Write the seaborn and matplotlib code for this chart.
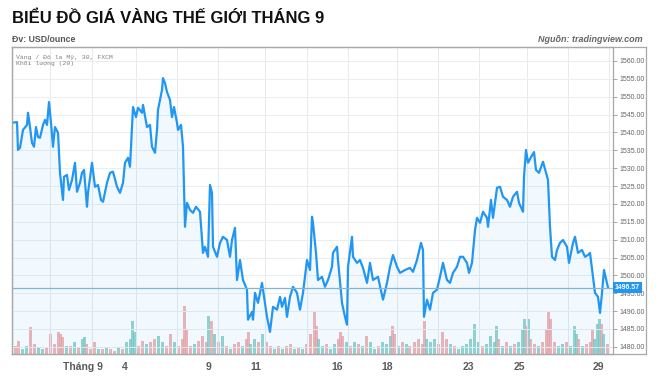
# %%
import numpy as np
import pandas as pd
import matplotlib
matplotlib.use("Agg")
import matplotlib.pyplot as plt
import seaborn as sns

# Gia vang (USD/ounce) - truc thoi gian tinh theo chi so phien tren bieu do
t_gio = [0, 5, 6, 8, 11, 15, 16, 18, 20, 22, 24, 26, 28, 31, 33, 35, 37, 39, 41, 43,
         46, 48, 51, 52, 55, 57, 60, 63, 65, 68, 70, 72, 75, 76, 80, 83, 86, 89, 91, 95,
         98, 101, 105, 108, 111, 113, 116, 118, 120, 121, 124, 126, 130, 131, 135, 138, 140, 143, 145, 146,
         150, 151, 153, 155, 158, 160, 162, 165, 166, 169, 171, 173, 175, 178, 181, 184, 188, 191, 193, 196,
         198, 200, 201, 205, 208, 211, 215, 218, 220, 223, 225, 228, 231, 235, 236, 240, 241, 243, 246, 250,
         253, 255, 258, 261, 265, 268, 270, 273, 275, 278, 281, 285, 288, 291, 295, 298, 300, 301, 304, 306,
         310, 313, 316, 320, 321, 325, 326, 330, 333, 335, 336, 340, 341, 345, 348, 351, 355, 358, 361, 366,
         371, 375, 378, 381, 385, 388, 393, 398, 401, 405, 409, 411, 412, 415, 418, 421, 425, 428, 431, 435,
         438, 441, 445, 448, 451, 455, 457, 460, 463, 465, 468, 471, 475, 476, 479, 481, 485, 488, 491, 495,
         498, 501, 505, 507, 511, 512, 514, 516, 519, 522, 524, 527, 531, 534, 536, 538, 540, 543, 545, 548,
         551, 555, 557, 561, 563, 566, 570, 573, 576, 578, 581, 583, 586, 588, 590, 592, 595, 596]
gia = [1542.7, 1542.9, 1535.1, 1535.7, 1540.7, 1542.1, 1545.5, 1541.5, 1537.1, 1536.0,
       1541.5, 1538.7, 1538.5, 1542.1, 1543.5, 1542.1, 1548.5, 1542.7, 1536.0, 1541.5,
       1539.9, 1528.7, 1521.1, 1527.6, 1528.1, 1523.9, 1526.7, 1531.5, 1523.4, 1525.9,
       1528.7, 1529.5, 1519.2, 1523.1, 1531.5, 1524.8, 1525.3, 1521.1, 1520.6, 1525.9,
       1528.7, 1529.0, 1524.8, 1523.1, 1525.9, 1531.5, 1532.9, 1530.4, 1541.5, 1547.1,
       1544.3, 1546.9, 1545.5, 1547.7, 1541.5, 1542.1, 1536.0, 1534.3, 1540.7, 1546.3,
       1551.9, 1555.2, 1553.8, 1551.3, 1549.1, 1544.3, 1547.1, 1542.7, 1540.7, 1542.1,
       1536.0, 1513.6, 1520.3, 1518.3, 1517.5, 1519.2, 1517.8, 1506.3, 1508.0, 1505.2,
       1525.3, 1523.1, 1508.0, 1505.2, 1509.1, 1510.8, 1509.9, 1505.2, 1509.9, 1513.3,
       1498.7, 1504.3, 1498.7, 1496.0, 1487.6, 1489.8, 1487.6, 1495.1, 1492.3, 1497.9,
       1492.3, 1488.4, 1484.2, 1491.2, 1490.4, 1494.0, 1491.2, 1493.7, 1488.4, 1494.0,
       1496.8, 1495.1, 1490.4, 1495.1, 1504.3, 1501.5, 1516.4, 1514.7, 1506.3, 1498.7,
       1499.6, 1496.8, 1498.7, 1502.4, 1506.3, 1508.0, 1504.3, 1492.3, 1488.4, 1486.2,
       1502.4, 1510.8, 1505.2, 1503.5, 1504.3, 1502.1, 1497.9, 1503.5, 1498.7, 1499.6,
       1493.2, 1497.9, 1502.4, 1505.7, 1502.4, 1500.7, 1501.5, 1502.1, 1501.0, 1504.3,
       1509.1, 1507.1, 1488.4, 1493.2, 1490.4, 1495.1, 1496.0, 1499.6, 1503.5, 1498.7,
       1497.9, 1500.7, 1502.4, 1505.2, 1505.2, 1503.5, 1500.7, 1503.5, 1512.7, 1516.1,
       1514.7, 1517.8, 1516.1, 1513.6, 1521.1, 1516.1, 1524.5, 1524.8, 1522.0, 1521.1,
       1519.2, 1522.0, 1523.4, 1520.3, 1517.8, 1527.6, 1535.1, 1531.5, 1533.1, 1534.5,
       1529.5, 1528.7, 1531.8, 1528.7, 1526.7, 1513.6, 1505.2, 1504.3, 1507.1, 1509.1,
       1509.9, 1508.0, 1503.5, 1509.1, 1510.8, 1506.3, 1507.1, 1505.2, 1505.7, 1506.3,
       1499.6, 1495.1, 1494.0, 1489.5, 1495.1, 1501.5, 1497.9, 1496.57]
gia_cuoi = 1496.57

# Khoi luong (don vi tuong doi), chieu: 1 = tang (xanh), 0 = giam (do)
t_kl = [3, 6, 10, 14, 18, 22, 26, 30, 34, 38, 42, 46, 48, 50, 54, 58, 62, 66, 70, 72,
        74, 78, 82, 86, 90, 94, 98, 102, 106, 110, 114, 118, 120, 122, 126, 130, 134, 138, 142, 146,
        150, 154, 158, 162, 166, 170, 172, 174, 178, 182, 186, 190, 194, 196, 199, 202, 206, 210, 214, 218,
        222, 226, 230, 234, 236, 238, 242, 246, 250, 254, 258, 262, 266, 270, 274, 278, 282, 286, 290, 294,
        298, 302, 304, 306, 310, 314, 318, 322, 326, 328, 330, 334, 338, 342, 346, 350, 354, 358, 362, 366,
        370, 374, 378, 380, 382, 386, 390, 394, 397, 402, 406, 410, 412, 414, 418, 422, 426, 430, 434, 438,
        442, 446, 450, 454, 458, 462, 466, 470, 474, 478, 482, 484, 486, 490, 494, 498, 502, 506, 510, 512,
        514, 516, 518, 522, 526, 530, 534, 536, 538, 542, 546, 550, 554, 558, 562, 564, 566, 570, 574, 578,
        580, 582, 585, 587, 589, 591, 595]
khoi_luong = [8, 13, 5, 8, 27, 10, 7, 5, 7, 20, 10, 22, 20, 17, 8, 8, 12, 7, 15, 17,
              10, 5, 12, 5, 5, 7, 5, 3, 7, 5, 12, 15, 33, 22, 8, 13, 10, 12, 15, 18,
              12, 8, 20, 12, 8, 15, 48, 25, 8, 10, 13, 18, 12, 38, 33, 20, 12, 18, 8, 5,
              10, 12, 8, 15, 22, 10, 15, 12, 20, 12, 8, 5, 8, 5, 8, 10, 5, 7, 5, 10,
              20, 42, 28, 15, 8, 10, 5, 10, 15, 22, 18, 12, 8, 12, 10, 8, 18, 12, 5, 8,
              12, 10, 18, 28, 20, 8, 12, 10, 8, 12, 15, 10, 33, 15, 12, 15, 10, 22, 15, 10,
              8, 5, 8, 10, 15, 30, 12, 8, 10, 18, 12, 28, 15, 8, 12, 8, 10, 12, 25, 35,
              28, 35, 15, 10, 8, 12, 25, 43, 35, 12, 8, 10, 12, 8, 28, 20, 15, 8, 10, 12,
              25, 15, 30, 35, 30, 20, 10]
chieu = [0, 0, 1, 1, 0, 0, 1, 1, 0, 0, 0, 0, 0, 0, 1, 0, 1, 0, 1, 1,
         0, 0, 0, 1, 0, 1, 0, 0, 1, 0, 1, 1, 1, 1, 0, 0, 1, 0, 0, 1,
         1, 0, 0, 1, 0, 0, 0, 0, 0, 1, 0, 0, 0, 1, 0, 1, 0, 1, 0, 1,
         0, 0, 1, 0, 0, 1, 1, 0, 1, 0, 0, 1, 0, 1, 0, 0, 1, 0, 1, 0,
         0, 0, 0, 1, 1, 0, 1, 1, 0, 0, 0, 1, 0, 1, 0, 1, 0, 1, 1, 0,
         1, 1, 1, 0, 0, 1, 0, 1, 0, 0, 0, 0, 0, 1, 1, 1, 0, 0, 0, 1,
         0, 1, 1, 1, 1, 1, 1, 0, 1, 1, 1, 1, 0, 1, 0, 1, 0, 1, 1, 1,
         0, 1, 0, 0, 1, 0, 0, 0, 0, 0, 1, 1, 0, 1, 1, 1, 0, 1, 0, 0,
         0, 1, 1, 1, 0, 1, 0]

# Nhan truc thoi gian va duong luoi
nhan_ngay = ["Tháng 9", "4", "9", "11", "16", "18", "23", "25", "29"]
vi_tri_nhan = [71, 113, 196, 244, 325, 375, 456, 507, 586]
vi_tri_luoi = [38, 80, 124, 165, 206, 253, 295, 336, 385, 426, 467, 515, 556, 597]
muc_gia = list(range(1480, 1561, 5))

df = pd.DataFrame({"t": t_gio, "gia": gia})
df_kl = pd.DataFrame({"t": t_kl, "kl": khoi_luong, "chieu": chieu})

# %%
sns.set_style("white")
plt.rcParams["font.family"] = ["Liberation Sans", "DejaVu Sans"]

fig = plt.figure(figsize=(6.6, 3.87), dpi=100)

# khung ngoai (bao ca cot gia)
khung = fig.add_axes([12 / 660, 33 / 387, 634 / 660, 307 / 387])
khung.set_xticks([])
khung.set_yticks([])
for s in khung.spines.values():
    s.set_color("#a8a8a8")
    s.set_linewidth(0.9)

ax = fig.add_axes([12 / 660, 33 / 387, 601 / 660, 307 / 387])
ax_kl = ax.twinx()
ax.set_zorder(ax_kl.get_zorder() + 1)
ax.patch.set_visible(False)

mau_kl = df_kl["chieu"].map({1: "#7ccbc2", 0: "#f0a3a3"})
ax_kl.bar(df_kl["t"], df_kl["kl"], width=3.0, color=mau_kl, alpha=0.8, linewidth=0)
ax_kl.set_ylim(0, 307)
ax_kl.set_yticks([])
for s in ax_kl.spines.values():
    s.set_visible(False)

ax.fill_between(df["t"], df["gia"], 1470, color="#2196f3", alpha=0.06, linewidth=0)
sns.lineplot(data=df, x="t", y="gia", ax=ax, color="#2196f3", linewidth=1.6,
             estimator=None, sort=False)
ax.axhline(gia_cuoi, color="#7fb6d8", linewidth=0.9)

ax.set_xlim(0, 601)
ax.set_ylim(1478.0, 1563.9)
ax.set_xlabel("")
ax.set_ylabel("")

ax.yaxis.tick_right()
ax.set_yticks(muc_gia)
ax.set_yticklabels([f"{v:.2f}" for v in muc_gia])
ax.tick_params(axis="y", which="major", length=3, width=0.6, color="#9a9a9a",
               labelsize=5, labelcolor="#666666", pad=2)

ax.set_xticks(vi_tri_nhan)
ax.set_xticklabels(nhan_ngay)
ax.set_xticks(vi_tri_luoi, minor=True)
ax.tick_params(axis="x", which="major", length=0, pad=6, labelsize=7.5,
               labelcolor="#5a5a5a")
for lb in ax.get_xticklabels():
    lb.set_fontweight("bold")
ax.tick_params(axis="x", which="minor", length=3, width=0.6, color="#9a9a9a")

ax.grid(axis="y", which="major", color="#e9eef3", linewidth=0.7)
ax.grid(axis="x", which="minor", color="#e3eaf0", linewidth=0.7)
ax.grid(axis="x", which="major", visible=False)
for s in ax.spines.values():
    s.set_color("#a8a8a8")
    s.set_linewidth(0.9)

# nhan gia cuoi
ax.text(1.003, gia_cuoi, "1496.57", transform=ax.get_yaxis_transform(),
        ha="left", va="center", fontsize=5, color="white", fontweight="bold",
        bbox=dict(boxstyle="square,pad=0.25", facecolor="#2196f3", edgecolor="none"))

# chu thich goc trai
ax.text(0.007, 0.975, "Vàng / Đô la Mỹ, 30, FXCM\nKhối lượng (20)", transform=ax.transAxes,
        ha="left", va="top", fontsize=4.6, color="#808080",
        family=["Liberation Mono", "DejaVu Sans"], linespacing=1.3)

fig.text(12 / 660, 1 - 18 / 387, "BIỂU ĐỒ GIÁ VÀNG THẾ GIỚI THÁNG 9", ha="left", va="center",
         fontsize=12, fontweight="bold", color="#111111")
fig.text(12 / 660, 1 - 40 / 387, "Đv: USD/ounce", ha="left", va="center",
         fontsize=6.3, fontweight="bold", color="#555555")
fig.text(643 / 660, 1 - 40 / 387, "Nguồn: tradingview.com", ha="right", va="center",
         fontsize=6.5, fontweight="bold", style="italic", color="#666666")

fig.savefig("out.png", dpi=100, facecolor="white")
